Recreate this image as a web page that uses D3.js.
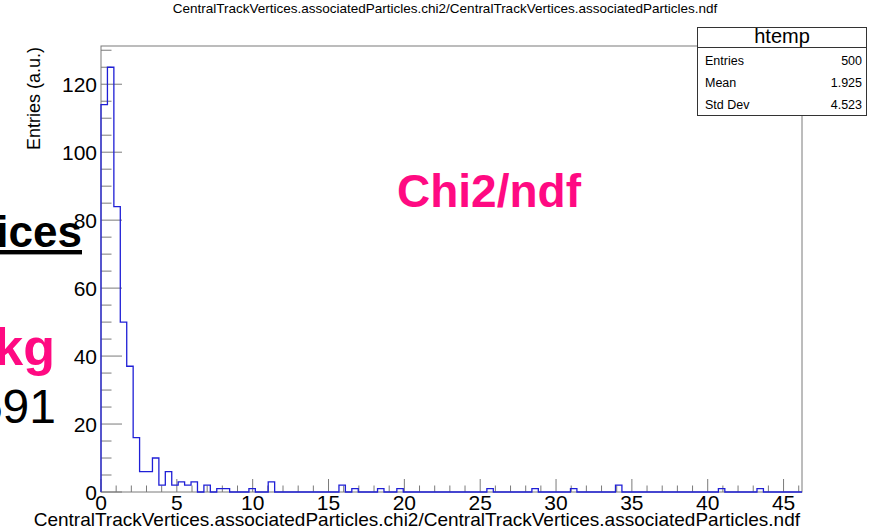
<!DOCTYPE html>
<html>
<head>
<meta charset="utf-8">
<script src="https://cdn.jsdelivr.net/npm/d3@7"></script>
<style>
  body { margin: 0; background: #fff; }
  svg { display: block; font-family: "Liberation Sans", Arial, sans-serif; }
</style>
</head>
<body>
<svg id="chart" width="869" height="532"></svg>
<script>
// histogram contents, one entry per bin (bin width in x units below)
const binWidth = 0.424;
const binCounts = [
  114, 125, 84, 50, 37, 16, 6, 6, 10, 2,
  6, 2, 3, 2, 3, 0, 2, 0, 1, 1,
  0, 0, 0, 1, 0, 0, 3, 0, 0, 0,
  0, 0, 0, 0, 0, 0, 0, 2, 0, 1,
  0, 0, 0, 1, 0, 0, 1, 0, 0, 0,
  0, 0, 0, 0, 0, 0, 0, 0, 0, 0,
  1, 0, 0, 0, 0, 0, 0, 1, 0, 0,
  0, 0, 0, 1, 0, 0, 0, 0, 0, 0,
  2, 0, 0, 0, 0, 0, 0, 0, 0, 0,
  0, 0, 0, 0, 0, 0, 1, 0, 0, 0,
  0, 0, 1, 0, 0, 0, 0, 0, 0
];
const xTicks = [0, 5, 10, 15, 20, 25, 30, 35, 40, 45];
const yTicks = [0, 20, 40, 60, 80, 100, 120];
const statNames = ['Entries', 'Mean', 'Std Dev'];
const statValues = ['500', '1.925', '4.523'];

const varName = 'CentralTrackVertices.associatedParticles.chi2/CentralTrackVertices.associatedParticles.ndf';

const svg = d3.select('#chart');
const frame = { left: 101, right: 802, top: 46, bottom: 492 };
const axisColor = '#7a7a7a';

const xMax = binCounts.length * binWidth;
const yMax = d3.max(binCounts) * 1.05;

const x = d3.scaleLinear().domain([0, xMax]).range([frame.left, frame.right]);
const y = d3.scaleLinear().domain([0, yMax]).range([frame.bottom, frame.top]);

// overlapping slide text on the left (clipped by page edge)
svg.append('text')
  .attr('x', 82).attr('y', 247)
  .attr('text-anchor', 'end')
  .attr('font-size', 44).attr('font-weight', 'bold')
  .style('text-decoration', 'underline')
  .text('Vertices');
svg.append('text')
  .attr('x', 55).attr('y', 365)
  .attr('text-anchor', 'end')
  .attr('font-size', 52).attr('font-weight', 'bold')
  .attr('fill', '#ff0a82')
  .text('bkg');
svg.append('text')
  .attr('x', 56).attr('y', 423)
  .attr('text-anchor', 'end')
  .attr('font-size', 48)
  .text('591');

// frame
svg.append('rect')
  .attr('x', frame.left).attr('y', frame.top)
  .attr('width', frame.right - frame.left).attr('height', frame.bottom - frame.top)
  .attr('fill', 'none').attr('stroke', axisColor).attr('stroke-width', 1);

// y ticks (pointing inside)
const yMinor = d3.range(0, yMax, 5);
svg.append('g').selectAll('line').data(yMinor).enter().append('line')
  .attr('x1', frame.left).attr('x2', (d) => frame.left + (d % 20 === 0 ? 21 : 10.5))
  .attr('y1', (d) => y(d)).attr('y2', (d) => y(d))
  .attr('stroke', axisColor);

svg.append('g').selectAll('text').data(yTicks).enter().append('text')
  .attr('x', 97).attr('y', (d) => y(d))
  .attr('dy', '0.36em')
  .attr('text-anchor', 'end')
  .attr('font-size', 21)
  .text((d) => d);

// x ticks
const xMinor = d3.range(0, Math.floor(xMax) + 1, 1);
svg.append('g').selectAll('line').data(xMinor).enter().append('line')
  .attr('x1', (d) => x(d)).attr('x2', (d) => x(d))
  .attr('y1', frame.bottom).attr('y2', (d) => frame.bottom - (d % 5 === 0 ? 13 : 6.5))
  .attr('stroke', axisColor);

svg.append('g').selectAll('text').data(xTicks).enter().append('text')
  .attr('x', (d) => x(d)).attr('y', 510)
  .attr('text-anchor', 'middle')
  .attr('font-size', 21)
  .text((d) => d);

// histogram outline
const pts = [[0, 0]];
binCounts.forEach((c, i) => pts.push([i * binWidth, c]));
pts.push([xMax, binCounts[binCounts.length - 1]]);
pts.push([xMax, 0]);

const line = d3.line()
  .x((d) => x(d[0]))
  .y((d) => y(d[1]))
  .curve(d3.curveStepAfter);

svg.append('path')
  .attr('d', line(pts))
  .attr('fill', 'none')
  .attr('stroke', '#1f1fd6')
  .attr('stroke-width', 1.3);

// titles
svg.append('text')
  .attr('x', 445).attr('y', 13)
  .attr('text-anchor', 'middle')
  .attr('font-size', 13.5)
  .text(varName);

svg.append('text')
  .attr('x', 800).attr('y', 526)
  .attr('text-anchor', 'end')
  .attr('font-size', 19)
  .text(varName);

svg.append('text')
  .attr('transform', 'translate(40, 47) rotate(-90)')
  .attr('text-anchor', 'end')
  .attr('font-size', 18)
  .text('Entries (a.u.)');

svg.append('text')
  .attr('x', 489).attr('y', 207)
  .attr('text-anchor', 'middle')
  .attr('font-size', 46).attr('font-weight', 'bold')
  .attr('fill', '#ff0a82')
  .text('Chi2/ndf');

// stats box
const box = svg.append('g');
box.append('rect')
  .attr('x', 697.5).attr('y', 27.5).attr('width', 169).attr('height', 88)
  .attr('fill', '#fff').attr('stroke', '#333');
box.append('line')
  .attr('x1', 697.5).attr('x2', 866.5).attr('y1', 47.5).attr('y2', 47.5)
  .attr('stroke', '#333');
box.append('text')
  .attr('x', 782).attr('y', 43)
  .attr('text-anchor', 'middle')
  .attr('font-size', 20)
  .text('htemp');
box.selectAll('.sname').data(statNames).enter().append('text')
  .attr('class', 'sname')
  .attr('x', 705).attr('y', (d, i) => 65 + i * 22)
  .attr('font-size', 12.5)
  .text((d) => d);
box.selectAll('.sval').data(statValues).enter().append('text')
  .attr('class', 'sval')
  .attr('x', 862).attr('y', (d, i) => 65 + i * 22)
  .attr('text-anchor', 'end')
  .attr('font-size', 12.5)
  .text((d) => d);
</script>
</body>
</html>
